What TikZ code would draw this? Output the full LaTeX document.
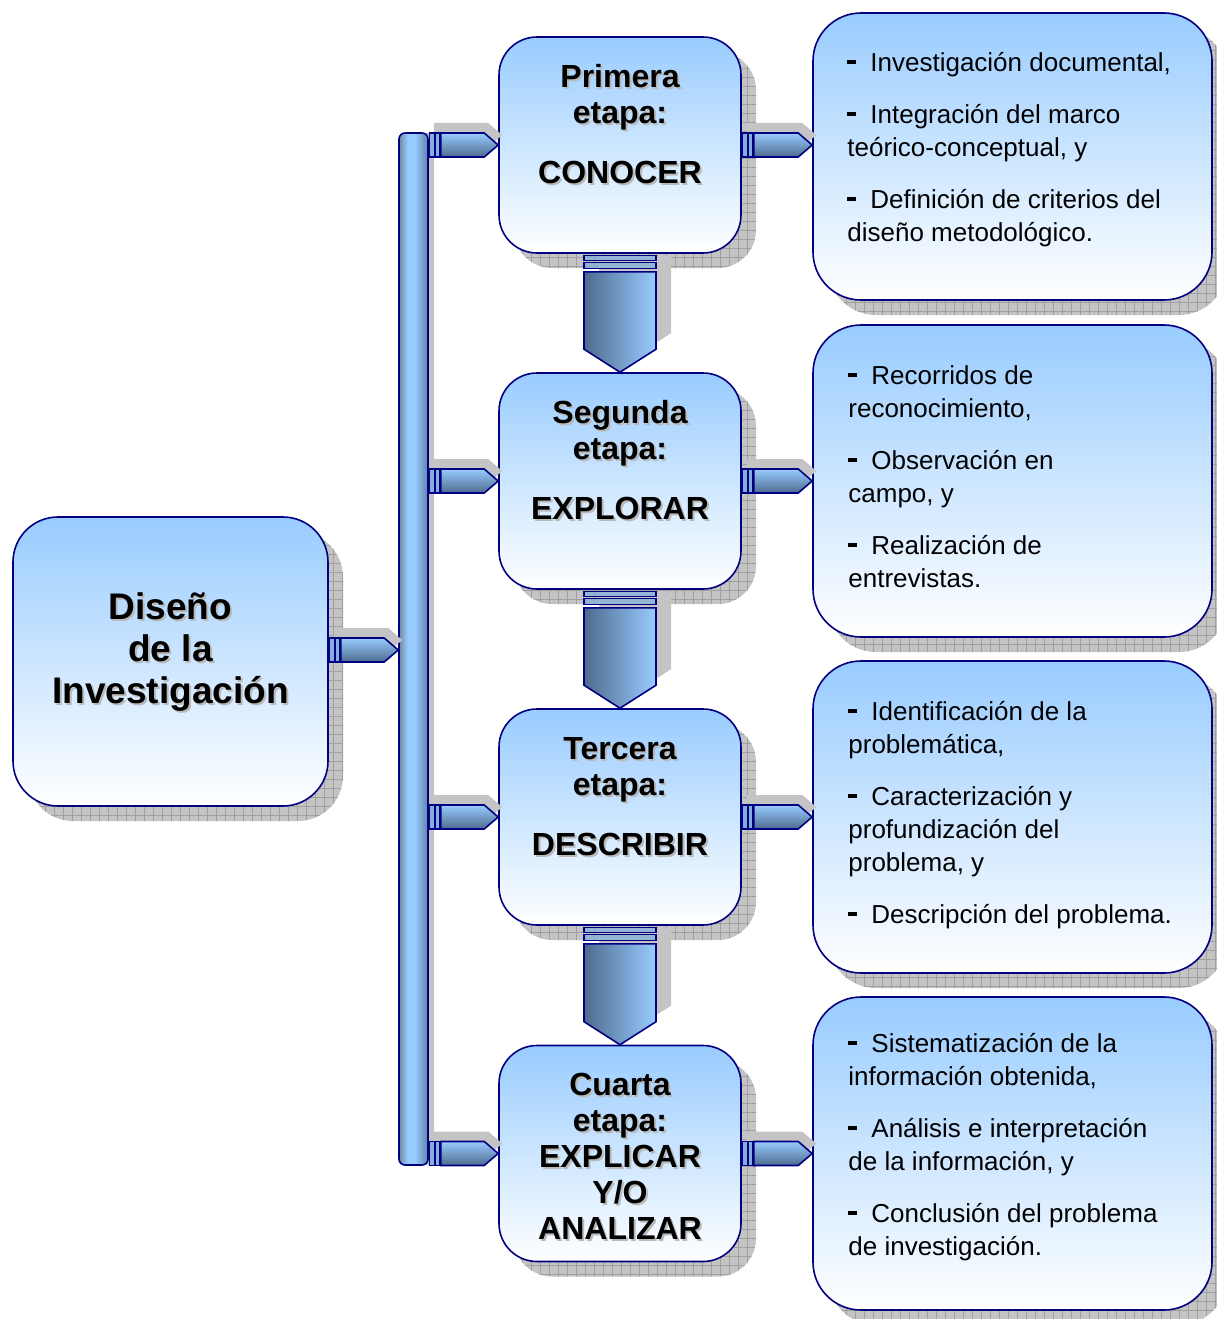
\documentclass[tikz,border=0pt]{standalone}
\usepackage{fontspec}
\setmainfont{Liberation Sans}
\usetikzlibrary{patterns.meta}
\usetikzlibrary{shadows}
\usetikzlibrary{calc}

\definecolor{navy}{RGB}{0,0,128}
\definecolor{boxblue}{RGB}{153,204,255}
\definecolor{steel}{RGB}{77,106,142}
\definecolor{shadowgray}{RGB}{196,196,196}

\pgfdeclarehorizontalshading{railshade}{100bp}{color(0bp)=(steel!80);color(25bp)=(steel!80);color(40bp)=(boxblue);color(52bp)=(boxblue);color(75bp)=(steel!75!boxblue);color(100bp)=(steel!75!boxblue)}

% gray copy of a title line, offset to the lower right
\newcommand{\tsh}[1]{\leavevmode\rlap{\kern2pt\raisebox{-2pt}{\textcolor{gray!55}{#1}}}#1}
% bullet dash of the lists
\newcommand{\dash}{\rule[8pt]{9pt}{4pt}\kern14pt}

% small block arrow, tip at #2
\newcommand{\sidearrow}[2]{%
\fill[arrowshade] ($(#1)+(1,-12)$) -- ($(#2)+(-14,-12)$) -- (#2) -- ($(#2)+(-14,12)$) -- ($(#1)+(1,12)$) -- cycle;
\draw[stripe] ($(#1)+(1,-12)$) rectangle ($(#1)+(6,12)$);
\draw[stripe] ($(#1)+(7,-12)$) rectangle ($(#1)+(11,12)$);
\draw[arrowbody] ($(#1)+(12,-12)$) -- ($(#2)+(-14,-12)$) -- (#2) -- ($(#2)+(-14,12)$) -- ($(#1)+(12,12)$) -- cycle;
}
% big block arrow pointing down, tip at #2
\newcommand{\downblock}[2]{%
\fill[downshade] ($(#1)+(-36,18)$) -- ($(#1)+(36,18)$) -- ($(#2)+(36,-23)$) -- (#2) -- ($(#2)+(-36,-23)$) -- cycle;
\draw[stripe, fill opacity=0.7] ($(#1)+(-36,2)$) rectangle ($(#1)+(36,7)$);
\draw[stripe, fill opacity=0.7] ($(#1)+(-36,9)$) rectangle ($(#1)+(36,15)$);
\draw[downbody] ($(#1)+(-36,18)$) -- ($(#1)+(36,18)$) -- ($(#2)+(36,-23)$) -- (#2) -- ($(#2)+(-36,-23)$) -- cycle;
}

\tikzset{
gridshadow/.style={general shadow={fill=shadowgray, shadow xshift=#1, shadow yshift=-#1},
  general shadow={pattern={Hatch[angle=0,distance=9pt,line width=0.6pt]}, pattern color=gray!75, shadow xshift=#1, shadow yshift=-#1}},
roundbox/.style={draw=navy, line width=1.6pt, top color=boxblue, bottom color=white, gridshadow=15pt},
stagebox/.style={roundbox, rounded corners=38pt, minimum width=242pt, minimum height=216pt},
infobox/.style={roundbox, rounded corners=48pt, minimum width=399pt},
railbar/.style={draw=navy, line width=1.6pt, rounded corners=6pt, shading=railshade,
  minimum width=29pt, minimum height=1032pt, inner sep=0pt, general shadow={fill=shadowgray, shadow xshift=6pt}},
title/.style={font=\bfseries\fontsize{32}{36}\selectfont, align=center, anchor=north, inner sep=0pt},
infotext/.style={font=\fontsize{26}{33}\selectfont, align=left, anchor=north west, inner sep=0pt},
stripe/.style={draw=navy, line width=1.2pt, fill=boxblue!70!steel},
arrowbody/.style={draw=navy, line width=1.6pt, top color=boxblue, bottom color=steel},
downbody/.style={draw=navy, line width=1.6pt, left color=steel, right color=boxblue},
arrowshade/.style={fill=shadowgray, transform canvas={shift={(4pt,10pt)}}},
downshade/.style={fill=shadowgray, transform canvas={shift={(15pt,16pt)}}}
}

\begin{document}
\begin{tikzpicture}[x=1pt,y=-1pt]
\useasboundingbox (0,0) rectangle (1216,1319);

\node[railbar] (bar) at (413.5,649) {};
\node[roundbox, rounded corners=45pt, minimum width=315pt, minimum height=289pt] (dis) at (170.5,661.5) {};

\node[stagebox] (s1) at (620,145) {};
\node[stagebox] (s2) at (620,481) {};
\node[stagebox] (s3) at (620,817) {};
\node[stagebox] (s4) at (620,1153.5) {};

\node[infobox, minimum height=287pt] (r1) at (1012.5,156.5) {};
\node[infobox, minimum height=312pt] (r2) at (1012.5,481) {};
\node[infobox, minimum height=312pt] (r3) at (1012.5,817) {};
\node[infobox, minimum height=313pt] (r4) at (1012.5,1153.5) {};

% connectors
\coordinate (d0) at ($(dis.east)+(0,-11.5)$);
\coordinate (b0) at (bar.west |- d0);
\sidearrow{d0}{b0}
\foreach \i in {1,2,3,4}{
  \coordinate (b\i) at (bar.east |- s\i.west);
  \coordinate (e\i) at (r\i.west |- s\i.east);
  \sidearrow{b\i}{s\i.west}
  \sidearrow{s\i.east}{e\i}
}
\downblock{s1.south}{s2.north}
\downblock{s2.south}{s3.north}
\downblock{s3.south}{s4.north}

% texts
\node[font=\bfseries\fontsize{37}{42}\selectfont, align=center, anchor=north, inner sep=0pt] (dist) at ($(dis.north)+(0,73.6)$) {\strut\tsh{Diseño}\\\tsh{de la}\\\tsh{Investigación}};
\node[title] (t1) at ($(s1.north)+(0,25.8)$) {\strut\tsh{Primera}\\\tsh{etapa:}\\[24pt]\tsh{CONOCER}};
\node[title] (t2) at ($(s2.north)+(0,25.8)$) {\strut\tsh{Segunda}\\\tsh{etapa:}\\[24pt]\tsh{EXPLORAR}};
\node[title] (t3) at ($(s3.north)+(0,25.8)$) {\strut\tsh{Tercera}\\\tsh{etapa:}\\[24pt]\tsh{DESCRIBIR}};
\node[title] (t4) at ($(s4.north)+(0,25.8)$) {\strut\tsh{Cuarta}\\\tsh{etapa:}\\\tsh{EXPLICAR}\\\tsh{Y/O}\\\tsh{ANALIZAR}};

\node[infotext] (x1) at ($(r1.north west)+(35,36)$) {\strut\dash Investigación documental,\\[19pt]\dash Integración del marco\\teórico-conceptual, y\\[19pt]\dash Definición de criterios del\\diseño metodológico.};
\node[infotext] (x2) at ($(r2.north west)+(36,37)$) {\strut\dash Recorridos de\\reconocimiento,\\[19pt]\dash Observación en\\campo, y\\[19pt]\dash Realización de\\entrevistas.};
\node[infotext] (x3) at ($(r3.north west)+(36,37)$) {\strut\dash Identificación de la\\problemática,\\[19pt]\dash Caracterización y\\profundización del\\problema, y\\[19pt]\dash Descripción del problema.};
\node[infotext] (x4) at ($(r4.north west)+(36,33)$) {\strut\dash Sistematización de la\\información obtenida,\\[19pt]\dash Análisis e interpretación\\de la información, y\\[19pt]\dash Conclusión del problema\\de investigación.};
\end{tikzpicture}
\end{document}
